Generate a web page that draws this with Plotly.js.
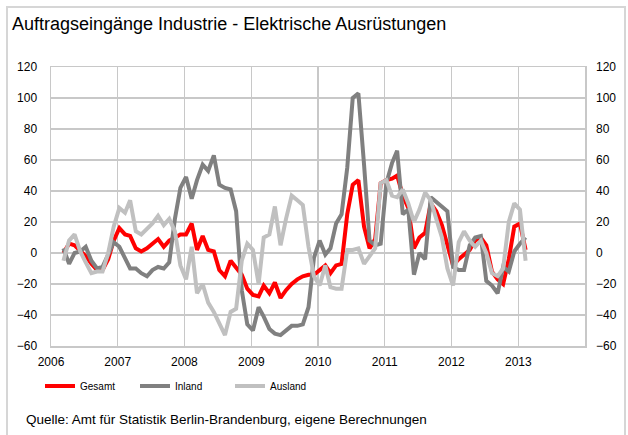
<!DOCTYPE html>
<html>
<head>
<meta charset="utf-8">
<script src="https://cdn.plot.ly/plotly-3.0.1.min.js"></script>
<style>
  html, body { margin: 0; padding: 0; background: #fff; }
  #wrap { position: relative; width: 628px; height: 435px; }
  #chart { width: 628px; height: 435px; }
  #frame { position: absolute; left: 6px; top: 6px; width: 616px; height: 440px;
           border: 2px solid #d6d6d6; pointer-events: none; }
</style>
</head>
<body>
<div id="wrap">
  <div id="chart"></div>
  <div id="frame"></div>
</div>
<script>
// Monthly series, March 2006 .. February 2013
const startYear = 2006;
const startMonth = 3;

const gesamt = [
  0, 6, 5, 1, -2, -7, -11, -11, -4, 8,
  16, 12, 11, 3, 1, 3, 6, 9, 4, 8, 10, 12,
  12, 19, 2, 11, 2, 1, -11, -15, -5, -9, -14, -23,
  -27, -28, -21, -26, -19, -29, -24, -20, -17, -15, -14, -14,
  -11, -8, -13, -8, -7, 25, 44, 47, 17, 3, 9, 45,
  47, 48, 50, 37, 29, 3, 10, 13, 32, 27, 18, 4,
  -8, -4, -1, 2, 8, 10, 5, -12, -17, -20, -4, 17,
  19, 2
];

const inland = [
  3, -7, 0, 1, 4, -5, -10, -9, -1, 7,
  4, -3, -10, -10, -13, -15, -11, -9, -10, -6, 22, 42,
  49, 35, 47, 57, 53, 63, 44, 42, 41, 27, -24, -46,
  -50, -35, -41, -49, -52, -53, -50, -47, -47, -46, -35, -3,
  8, -1, 3, 19, 25, 55, 100, 103, 57, 8, 5, 6,
  45, 58, 66, 25, 28, -14, 0, -4, 36, 33, 30, 27,
  -9, -11, -11, 5, 10, 11, -18, -21, -26, -9, -12, 1,
  6, 10
];

const ausland = [
  -5, 8, 12, 1, -6, -13, -12, -12, 0, 17,
  29, 26, 34, 14, 12, 16, 19, 24, 18, 22, 14, -8,
  -17, 4, -26, -20, -32, -38, -46, -53, -38, -36, -5, 6,
  2, -20, 10, 12, 30, 5, 22, 37, 34, 31, 4, -15,
  -21, -8, -22, -23, -23, 2, 2, 3, -7, -2, 3, 45,
  47, 37, 36, 41, 32, 20, 28, 39, 34, 22, 10, -10,
  -21, 7, 14, 8, 4, 8, 0, -13, -15, -10, 20, 32,
  28, -5
];

const seriesNames = ['Gesamt', 'Inland', 'Ausland'];
const yearTicks = [2006, 2007, 2008, 2009, 2010, 2011, 2012, 2013];
const yTicks = [-60, -40, -20, 0, 20, 40, 60, 80, 100, 120];

const months = gesamt.map((_, k) => {
  const m = startMonth - 1 + k;
  const y = startYear + Math.floor(m / 12);
  const mm = (m % 12) + 1;
  return y + '-' + String(mm).padStart(2, '0') + '-10';
});

const colors = ['#ff0000', '#808080', '#c0c0c0'];
const values = [gesamt, inland, ausland];

const traces = values.map((v, k) => ({
  type: 'scatter',
  mode: 'lines',
  name: seriesNames[k],
  x: months,
  y: v,
  line: { color: colors[k], width: 4 },
  hoverinfo: 'skip'
}));
// invisible trace to carry the right-hand axis
traces.push({
  type: 'scatter', mode: 'lines', x: months, y: gesamt, yaxis: 'y2',
  showlegend: false, line: { color: 'rgba(0,0,0,0)', width: 0 }, hoverinfo: 'skip'
});

const gridColor = '#c8c8c8';
const fontFam = 'Liberation Sans, Arial, sans-serif';
const tickFont = { family: fontFam, size: 12, color: '#000' };

const layout = {
  width: 628,
  height: 435,
  paper_bgcolor: '#fff',
  plot_bgcolor: '#fff',
  margin: { l: 51, r: 43, t: 67, b: 89 },
  title: {
    text: 'Auftragseingänge Industrie - Elektrische Ausrüstungen',
    x: 12 / 628, xanchor: 'left', xref: 'container',
    y: 1 - 24 / 435, yanchor: 'middle', yref: 'container',
    font: { family: fontFam, size: 18, color: '#000' }
  },
  xaxis: {
    type: 'date',
    range: ['2006-01-01', '2014-01-01'],
    tickvals: yearTicks.map(y => y + '-01-01'),
    ticktext: yearTicks.map(String),
    showgrid: true, gridcolor: gridColor, gridwidth: 1.3,
    showline: true, mirror: true, linecolor: gridColor, linewidth: 1.5,
    ticks: '', zeroline: false,
    tickfont: tickFont,
    ticklabelstandoff: 4
  },
  yaxis: {
    range: [-60, 120],
    tickvals: yTicks,
    showgrid: true, gridcolor: gridColor, gridwidth: 1.3,
    showline: true, mirror: true, linecolor: gridColor, linewidth: 1.5,
    ticks: '', zeroline: false,
    tickfont: tickFont,
    ticklabelstandoff: 10
  },
  yaxis2: {
    range: [-60, 120],
    tickvals: yTicks,
    overlaying: 'y', side: 'right',
    showgrid: false, zeroline: false, showline: false, ticks: '',
    tickfont: tickFont,
    ticklabelstandoff: 10
  },
  showlegend: true,
  legend: {
    orientation: 'h',
    x: (40 - 51) / 534, xanchor: 'left',
    y: 1 - 386 / 435, yanchor: 'middle', yref: 'container',
    font: { family: fontFam, size: 10, color: '#000' },
    entrywidth: 50, entrywidthmode: 'pixels',
    bgcolor: 'rgba(0,0,0,0)'
  },
  annotations: [{
    text: 'Quelle: Amt für Statistik Berlin-Brandenburg, eigene Berechnungen',
    xref: 'paper', yref: 'paper',
    x: (24 - 51) / 534, xanchor: 'left',
    y: (346 - 419) / 279, yanchor: 'middle',
    showarrow: false,
    font: { family: fontFam, size: 13.5, color: '#000' }
  }]
};

Plotly.newPlot('chart', traces, layout, { staticPlot: true, displayModeBar: false });
</script>
</body>
</html>
